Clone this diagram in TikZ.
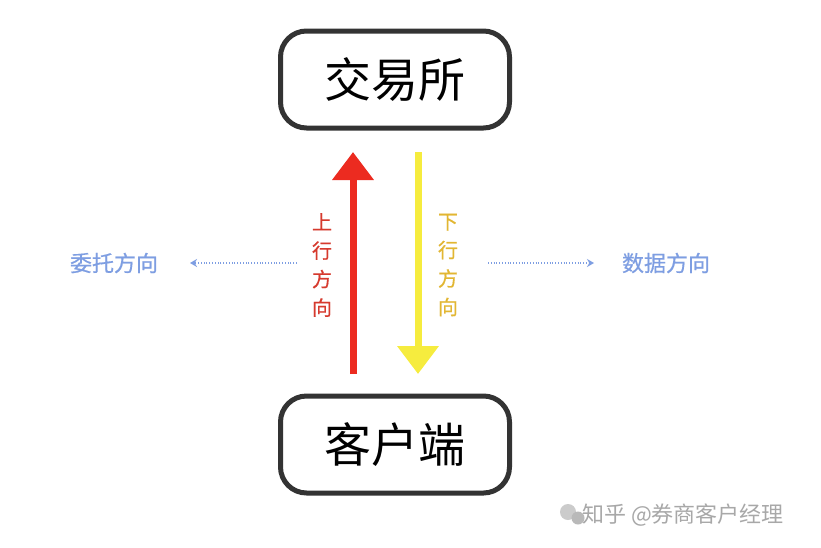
\documentclass[tikz,border=0pt]{standalone}
\usepackage{fontspec}
\setmainfont{Noto Sans CJK SC}
\newfontfamily\cjkmed[FakeBold=0.6]{Noto Sans CJK SC}
\usetikzlibrary{arrows.meta}
\definecolor{boxline}{HTML}{333333}
\definecolor{upred}{HTML}{EC2B20}
\definecolor{uptext}{HTML}{D63A2E}
\definecolor{downyel}{HTML}{F6EC3E}
\definecolor{downtext}{HTML}{E2B632}
\definecolor{dirblue}{HTML}{7E9EE2}
\definecolor{wmgrey}{HTML}{A8A8A8}
\tikzset{
  endbox/.style={draw=boxline, line width=5pt, rounded corners=26pt, minimum width=229pt, minimum height=97pt, inner sep=0pt, font=\fontsize{47}{50}\selectfont, text=black},
  vlabel/.style={align=center, font=\cjkmed\fontsize{20}{28.5}\selectfont, inner sep=0pt},
  dirlabel/.style={font=\cjkmed\fontsize{22}{26}\selectfont, text=dirblue, inner sep=0pt},
  dotline/.style={draw=dirblue, line width=2pt, dash pattern=on 1pt off 1.8pt, -{Stealth[length=7pt,width=8pt,fill=dirblue]}},
}
\begin{document}
\begin{tikzpicture}[x=1pt,y=-1pt]
\useasboundingbox[fill=white] (0,0) rectangle (821,547);
\node[endbox] (ex) at (395,79.5) {交易所};
\node[endbox] (cl) at (395,444.5) {客户端};
\coordinate (ubot) at (353,374);
\coordinate (utop) at (353,152);
\coordinate (dtop) at (418,152);
\coordinate (dbot) at (418,374);
\draw[upred, line width=7pt, -{Triangle[length=28pt,width=40pt]}] (ubot) -- (utop);
\draw[downyel, line width=7pt, -{Triangle[length=28pt,width=40pt]}] (dtop) -- (dbot);
\node[vlabel, text=uptext] (ul) at (322,265) {上\\行\\方\\向};
\node[vlabel, text=downtext] (dl) at (448,265) {下\\行\\方\\向};
\node[dirlabel] (wt) at (114,263) {委托方向};
\node[dirlabel] (sj) at (666,263) {数据方向};
\coordinate (ls) at (297,263);
\coordinate (le) at (190,263);
\coordinate (rs) at (488,263);
\coordinate (re) at (594,263);
\draw[dotline] (ls) -- (le);
\draw[dotline] (rs) -- (re);
\fill[wmgrey!60] (568,512) circle (8pt);
\fill[wmgrey!80] (578,518) circle (6.5pt);
\node[font=\fontsize{22}{26}\selectfont, text=wmgrey, anchor=west, inner sep=0pt] (wm) at (582,515) {知乎 @券商客户经理};
\end{tikzpicture}
\end{document}
